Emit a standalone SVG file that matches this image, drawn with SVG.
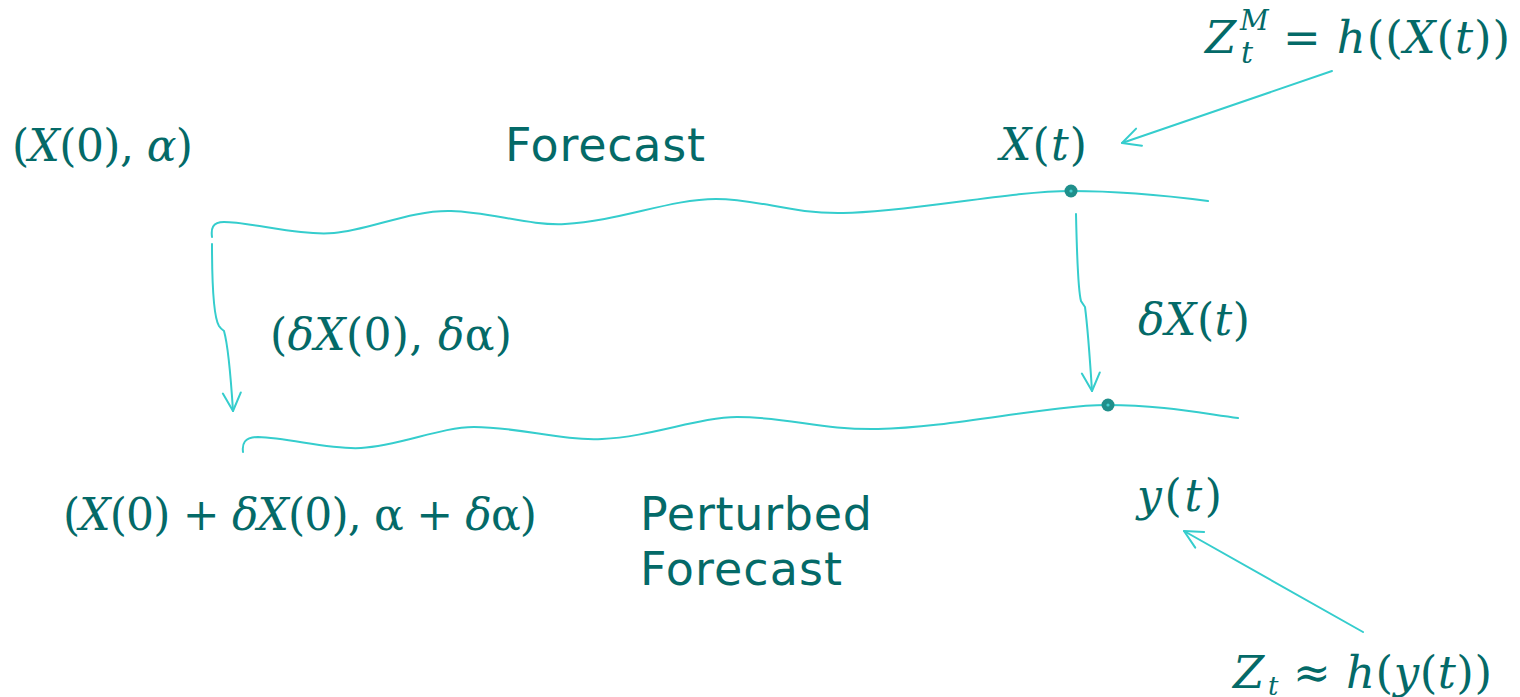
<svg xmlns="http://www.w3.org/2000/svg" width="1520" height="697" viewBox="0 0 1520 697">
<style>
.ln{fill:none;stroke:#35cdcd;stroke-width:2;stroke-linecap:round}
.m{font-family:"DejaVu Serif","Liberation Serif",serif;fill:#046a68}
.i{font-style:italic}
.s{font-family:"DejaVu Sans","Verdana","Liberation Sans",sans-serif;fill:#046a68}
.dot{fill:#1f8f8b}
.dc{fill:#45d0d0}
</style>
<defs>
<marker id="ah" markerUnits="userSpaceOnUse" viewBox="-20 -11 22 22" refX="0" refY="0" markerWidth="22" markerHeight="22" orient="auto">
<path d="M-18,-9 L0,0 L-18,9" fill="none" stroke="#35cdcd" stroke-width="2" stroke-linecap="round" stroke-linejoin="round"/>
</marker>
</defs>
<rect width="1520" height="697" fill="#ffffff"/>

<g id="connectors">
<path id="forecast-line" class="ln" d="M212,237 C211,229 212,222 224,222 C250,222 300,236 334,233 C370,230 410,210 451,211 C490,212 530,226 565,224 C620,221 670,199 716,199 C760,199 790,214 843,213 C910,212 1010,191 1071,191 C1120,191 1170,196 1208,201"/>
<path id="perturbed-line" class="ln" d="M243,452 C242,444 244,437 258,437 C290,438 330,450 361,448 C400,446 440,427 474,427 C520,427 560,441 602,439 C650,437 700,417 737,417 C790,417 820,430 878,429 C950,428 1050,405 1107,405 C1160,405 1200,413 1238,418"/>
<path id="arrow-init" class="ln" marker-end="url(#ah)" d="M212,244 C212,290 214,318 219,326 Q221,329 224,331 C228,345 231,380 233,411"/>
<path id="arrow-dx" class="ln" marker-end="url(#ah)" d="M1076,214 C1077,260 1078,290 1081,301 Q1083,304 1085,307 C1088,330 1090,360 1092,391"/>
<path id="arrow-zm" class="ln" marker-end="url(#ah)" d="M1332,71 L1122,143"/>
<path id="arrow-zt" class="ln" marker-end="url(#ah)" d="M1363,632 L1184,531"/>
</g>

<g id="dot-xt"><circle class="dot" cx="1071" cy="191" r="6.5"/><circle class="dc" cx="1071" cy="191" r="1.6"/></g>
<g id="dot-yt"><circle class="dot" cx="1108" cy="405" r="6.5"/><circle class="dc" cx="1108" cy="405" r="1.6"/></g>

<g id="label-init"><text class="m" x="12" y="161" font-size="44" textLength="181">(<tspan class="i">X</tspan>(0), <tspan class="i">α</tspan>)</text></g>
<g id="label-forecast"><text class="s" x="505" y="161" font-size="46" textLength="200">Forecast</text></g>
<g id="label-xt"><text class="m" x="1000" y="160" font-size="44" textLength="87"><tspan class="i">X</tspan>(<tspan class="i">t</tspan>)</text></g>
<g id="label-zm">
<text class="m i" x="1205" y="53" font-size="45">Z</text>
<text class="m i" x="1240" y="30" font-size="28">M</text>
<text class="m i" x="1241" y="63" font-size="30">t</text>
<text class="m" x="1283" y="53" font-size="45" textLength="227">= <tspan class="i">h</tspan>((<tspan class="i">X</tspan>(<tspan class="i">t</tspan>))</text>
</g>
<g id="label-dinit"><text class="m" x="270" y="350" font-size="44" textLength="242">(<tspan class="i">δX</tspan>(0), <tspan class="i">δ</tspan>α)</text></g>
<g id="label-dxt"><text class="m" x="1138" y="335" font-size="44" textLength="112"><tspan class="i">δX</tspan>(<tspan class="i">t</tspan>)</text></g>
<g id="label-pinit"><text class="m" x="63" y="530" font-size="44" textLength="474">(<tspan class="i">X</tspan>(0) + <tspan class="i">δX</tspan>(0), α + <tspan class="i">δ</tspan>α)</text></g>
<g id="label-perturbed">
<text class="s" x="640" y="530" font-size="46" textLength="232">Perturbed</text>
<text class="s" x="640" y="585" font-size="46" textLength="202">Forecast</text>
</g>
<g id="label-yt"><text class="m" x="1137" y="511" font-size="44" textLength="85"><tspan class="i">y</tspan>(<tspan class="i">t</tspan>)</text></g>
<g id="label-zt">
<text class="m i" x="1233" y="688" font-size="45">Z</text>
<text class="m i" x="1268" y="695" font-size="26">t</text>
<text class="m" x="1293" y="688" font-size="45" textLength="199">≈ <tspan class="i">h</tspan>(<tspan class="i">y</tspan>(<tspan class="i">t</tspan>))</text>
</g>
</svg>
